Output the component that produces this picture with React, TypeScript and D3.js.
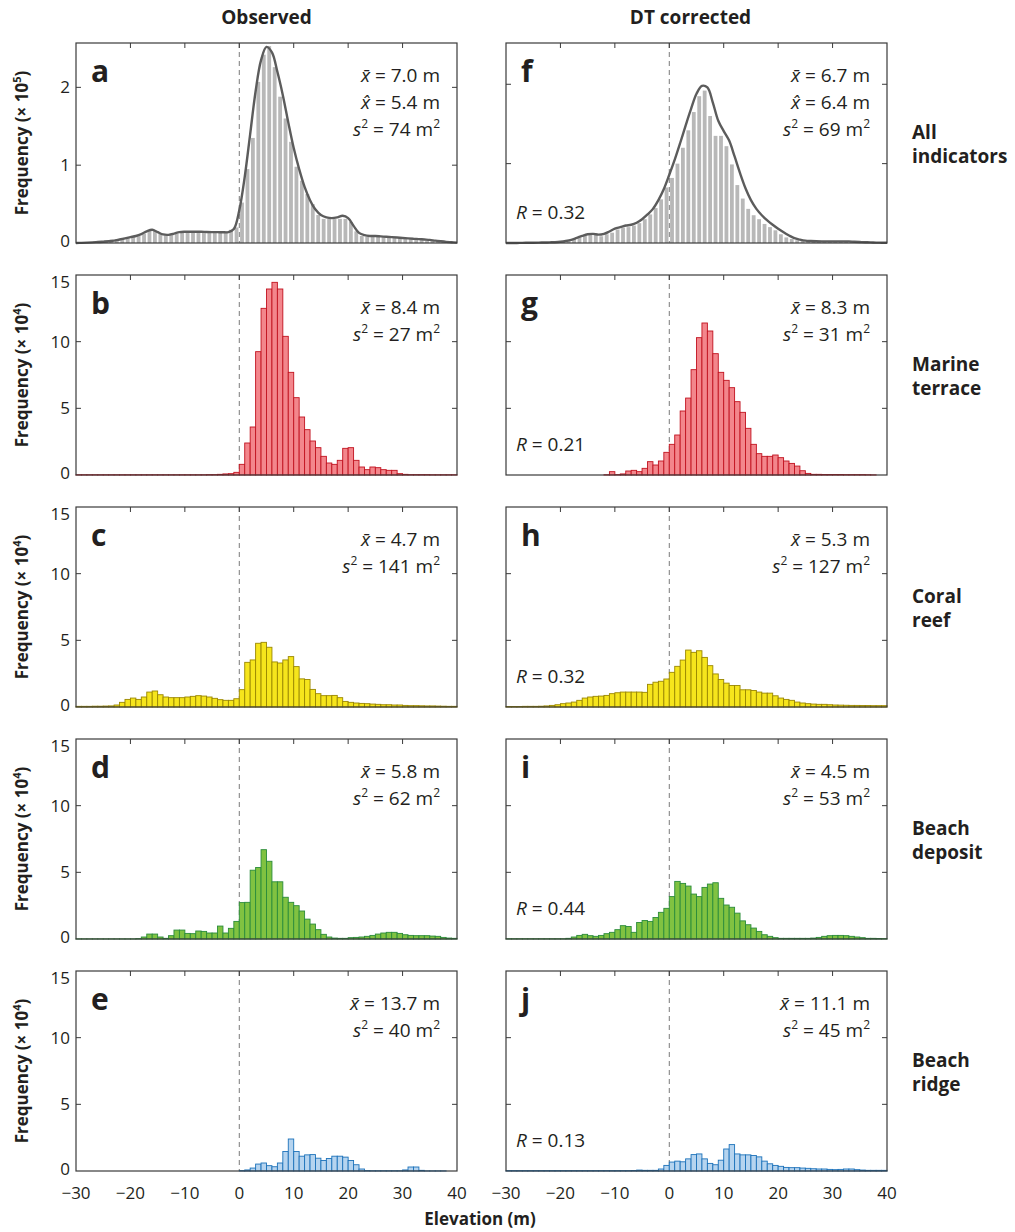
import React from "react";
import * as d3 from "d3";

// 1 m bins from -30 to 40 m (left edges)
const bins = d3.range(-30, 40);
const kdeX = d3.range(-30, 41);

// All indicators, frequency x 10^5
const obsAll = [
  0.005, 0.008, 0.012, 0.02, 0.03, 0.035, 0.045, 0.05, 0.06, 0.065,
  0.07, 0.09, 0.12, 0.16, 0.16, 0.12, 0.1, 0.1, 0.12, 0.14,
  0.15, 0.15, 0.14, 0.15, 0.15, 0.14, 0.14, 0.15, 0.17, 0.2,
  0.52, 0.95, 1.35, 2.07, 2.42, 2.53, 2.26, 1.88, 1.6, 1.3,
  0.98, 0.8, 0.63, 0.5, 0.36, 0.31, 0.31, 0.31, 0.31, 0.31,
  0.27, 0.15, 0.09, 0.08, 0.08, 0.08, 0.08, 0.07, 0.07, 0.06,
  0.05, 0.05, 0.04, 0.04, 0.035, 0.03, 0.025, 0.02, 0.015, 0.01,
];
const dtAll = [
  0.004, 0.004, 0.004, 0.005, 0.005, 0.005, 0.006, 0.008, 0.01, 0.012,
  0.02, 0.03, 0.05, 0.07, 0.09, 0.11, 0.1, 0.085, 0.11, 0.13,
  0.17, 0.19, 0.2, 0.22, 0.25, 0.3, 0.36, 0.44, 0.55, 0.7,
  0.82, 1.0, 1.2, 1.42, 1.65, 1.85, 1.92, 1.6, 1.35, 1.35,
  1.22, 0.99, 0.73, 0.56, 0.43, 0.35, 0.3, 0.24, 0.2, 0.16,
  0.11, 0.07, 0.05, 0.035, 0.025, 0.025, 0.025, 0.025, 0.025, 0.025,
  0.025, 0.025, 0.025, 0.02, 0.015, 0.012, 0.01, 0.008, 0.005, 0.003,
];
// smoothed density curves drawn over panels a and f (x = -30..40)
const kdeObsAll = [
  0.0, 0.002, 0.005, 0.008, 0.012, 0.016, 0.022, 0.03, 0.045, 0.06,
  0.075, 0.09, 0.115, 0.15, 0.17, 0.14, 0.11, 0.105, 0.12, 0.14,
  0.145, 0.145, 0.145, 0.145, 0.142, 0.14, 0.14, 0.138, 0.14, 0.18,
  0.42, 0.85, 1.4, 1.95, 2.35, 2.52, 2.45, 2.2, 1.9, 1.55,
  1.22, 0.95, 0.72, 0.55, 0.43, 0.36, 0.33, 0.32, 0.33, 0.35,
  0.32, 0.22, 0.13, 0.1, 0.09, 0.09, 0.085, 0.08, 0.075, 0.07,
  0.065, 0.06, 0.055, 0.05, 0.045, 0.04, 0.03, 0.022, 0.015, 0.01, 0.005,
];
const kdeDtAll = [
  0.0, 0.0, 0.0, 0.002, 0.003, 0.004, 0.005, 0.006, 0.008, 0.01,
  0.015, 0.025, 0.04, 0.065, 0.09, 0.11, 0.115, 0.105, 0.115, 0.145,
  0.18, 0.2, 0.22, 0.23, 0.255, 0.3, 0.36, 0.43, 0.54, 0.68,
  0.86, 1.05, 1.26, 1.48, 1.69, 1.88, 1.98, 1.96, 1.77, 1.54,
  1.41, 1.29, 1.09, 0.88, 0.69, 0.54, 0.43, 0.35, 0.285, 0.23,
  0.18, 0.135, 0.095, 0.06, 0.043, 0.03, 0.025, 0.022, 0.02, 0.02,
  0.02, 0.02, 0.02, 0.02, 0.015, 0.012, 0.01, 0.008, 0.005, 0.004, 0.003,
];

// indicator types, frequency x 10^4
const obsMarine = [
  0.02, 0.02, 0.02, 0.02, 0.02, 0.02, 0.02, 0.02, 0.02, 0.02,
  0.02, 0.02, 0.02, 0.02, 0.02, 0.02, 0.02, 0.02, 0.02, 0.02,
  0.02, 0.02, 0.02, 0.02, 0.03, 0.03, 0.05, 0.08, 0.1, 0.2,
  0.8, 2.4, 3.6, 9.25, 12.5, 13.95, 14.45, 13.95, 10.4, 7.7,
  5.8, 4.35, 3.4, 2.55, 2.05, 1.4, 0.9, 0.8, 1.1, 2.0,
  2.05, 1.1, 0.6, 0.4, 0.6, 0.55, 0.4, 0.35, 0.35, 0.1,
  0.05, 0.03, 0.03, 0.03, 0.03, 0.02, 0.02, 0.02, 0.02, 0.02,
];
const dtMarine = [
  0, 0, 0, 0, 0, 0, 0, 0, 0, 0,
  0, 0, 0, 0, 0, 0, 0, 0, 0.02, 0.25,
  0.03, 0.08, 0.3, 0.35, 0.25, 0.5, 1.0, 0.75, 1.05, 1.7,
  2.3, 3.0, 4.8, 5.77, 7.9, 10.3, 11.4, 10.8, 9.1, 7.7,
  7.1, 6.55, 5.5, 4.7, 3.5, 2.3, 1.6, 1.4, 1.4, 1.5,
  1.3, 1.05, 0.87, 0.67, 0.32, 0.12, 0.05, 0.05, 0.04, 0.04,
  0.04, 0.04, 0.03, 0.03, 0.03, 0.03, 0.02, 0.01, 0, 0,
];
const obsCoral = [
  0.05, 0.05, 0.05, 0.06, 0.06, 0.07, 0.08, 0.15, 0.35, 0.57,
  0.67, 0.57, 0.75, 1.12, 1.2, 0.92, 0.75, 0.7, 0.7, 0.7,
  0.75, 0.8, 0.85, 0.82, 0.75, 0.65, 0.55, 0.5, 0.5, 0.62,
  1.3, 3.35, 3.53, 4.78, 4.85, 4.48, 3.38, 3.3, 3.53, 3.78,
  3.03, 2.11, 2.06, 1.32, 1.0, 0.85, 0.85, 0.87, 0.7, 0.42,
  0.35, 0.3, 0.27, 0.25, 0.22, 0.2, 0.17, 0.17, 0.15, 0.15,
  0.12, 0.1, 0.1, 0.09, 0.08, 0.08, 0.07, 0.06, 0.05, 0.05,
];
const dtCoral = [
  0.04, 0.04, 0.04, 0.05, 0.05, 0.05, 0.06, 0.08, 0.12, 0.17,
  0.25, 0.3, 0.37, 0.5, 0.67, 0.75, 0.8, 0.82, 0.87, 1.0,
  1.07, 1.12, 1.12, 1.12, 1.12, 1.1, 1.7, 1.86, 1.93, 2.1,
  2.6, 3.05, 3.52, 4.27, 4.1, 4.22, 3.72, 3.1, 2.48, 2.06,
  1.79, 1.61, 1.61, 1.29, 1.29, 1.24, 1.12, 1.04, 1.04, 0.84,
  0.67, 0.57, 0.5, 0.37, 0.3, 0.25, 0.22, 0.2, 0.2, 0.17,
  0.15, 0.14, 0.13, 0.12, 0.12, 0.11, 0.11, 0.1, 0.1, 0.1,
];
const obsBeachDeposit = [
  0.01, 0.01, 0.01, 0.01, 0.01, 0.01, 0.01, 0.01, 0.01, 0.01,
  0.01, 0.03, 0.15, 0.37, 0.37, 0.15, 0.05, 0.25, 0.67, 0.67,
  0.42, 0.4, 0.6, 0.57, 0.45, 0.45, 0.97, 0.45, 0.8, 1.32,
  2.73, 2.75, 5.16, 5.36, 6.7, 5.83, 4.29, 4.29, 3.13, 2.75,
  2.5, 2.1, 1.49, 1.12, 0.7, 0.35, 0.15, 0.07, 0.05, 0.05,
  0.1, 0.12, 0.15, 0.2, 0.27, 0.37, 0.45, 0.5, 0.5, 0.42,
  0.32, 0.27, 0.25, 0.25, 0.25, 0.22, 0.2, 0.12, 0.07, 0.05,
];
const dtBeachDeposit = [
  0.02, 0.02, 0.02, 0.02, 0.02, 0.02, 0.02, 0.02, 0.02, 0.02,
  0.02, 0.05, 0.15, 0.27, 0.35, 0.25, 0.2, 0.27, 0.4, 0.5,
  0.7, 1.0, 0.94, 0.5, 1.24, 1.39, 1.32, 1.61, 2.0, 2.3,
  3.18, 4.32, 4.17, 3.97, 3.37, 3.18, 3.87, 4.12, 4.22, 3.05,
  2.55, 2.38, 1.94, 1.36, 1.07, 0.82, 0.57, 0.32, 0.2, 0.1,
  0.05, 0.05, 0.05, 0.05, 0.05, 0.05, 0.07, 0.12, 0.2, 0.25,
  0.27, 0.27, 0.25, 0.2, 0.15, 0.1, 0.05, 0.05, 0.04, 0.03,
];
const obsBeachRidge = [
  0, 0, 0, 0, 0, 0, 0, 0, 0, 0,
  0, 0, 0, 0, 0, 0, 0, 0, 0, 0,
  0, 0, 0, 0, 0, 0, 0, 0, 0, 0,
  0.03, 0.08, 0.22, 0.52, 0.6, 0.4, 0.32, 0.6, 1.46, 2.4,
  1.46, 1.11, 1.21, 1.23, 0.96, 0.79, 0.94, 1.11, 1.11, 1.04,
  0.79, 0.47, 0.15, 0.03, 0.02, 0.02, 0.02, 0.02, 0.02, 0.02,
  0.08, 0.3, 0.3, 0.05, 0.01, 0.01, 0.01, 0.01, 0, 0,
];
const dtBeachRidge = [
  0.03, 0.03, 0.03, 0.03, 0.03, 0.03, 0.03, 0.03, 0.03, 0.03,
  0.03, 0.03, 0.03, 0.03, 0.03, 0.03, 0.03, 0.03, 0.03, 0.03,
  0.03, 0.03, 0.03, 0.04, 0.07, 0.05, 0.05, 0.05, 0.15, 0.42,
  0.67, 0.74, 0.69, 0.91, 1.23, 1.28, 0.91, 0.57, 0.47, 0.81,
  1.65, 1.98, 1.28, 1.21, 1.21, 1.16, 1.06, 0.74, 0.54, 0.42,
  0.35, 0.27, 0.25, 0.25, 0.22, 0.2, 0.17, 0.15, 0.15, 0.12,
  0.1, 0.12, 0.15, 0.15, 0.1, 0.07, 0.05, 0.05, 0.05, 0.05,
];

// labels and statistics
const rowLabels = [["All", "indicators"], ["Marine", "terrace"], ["Coral", "reef"], ["Beach", "deposit"], ["Beach", "ridge"]];
const obsLetters = ["a", "b", "c", "d", "e"];
const dtLetters = ["f", "g", "h", "i", "j"];
const meanObs = ["7.0", "8.4", "4.7", "5.8", "13.7"];
const varObs = ["74", "27", "141", "62", "40"];
const meanDt = ["6.7", "8.3", "5.3", "4.5", "11.1"];
const varDt = ["69", "31", "127", "53", "45"];
const modeObs = "5.4";
const modeDt = "6.4";
const rValues = ["0.32", "0.21", "0.32", "0.44", "0.13"];
const xTicks = [-30, -20, -10, 0, 10, 20, 30, 40];
const fills = ["#b8b8b8", "#f3868c", "#f6e51c", "#80c241", "#b6d4ef"];
const strokes = ["none", "#c1121f", "#9a8700", "#2a8c3a", "#1c72ba"];

const obsSeries = [obsAll, obsMarine, obsCoral, obsBeachDeposit, obsBeachRidge];
const dtSeries = [dtAll, dtMarine, dtCoral, dtBeachDeposit, dtBeachRidge];

const W = 1015;
const H = 1232;
const FONT = "'Open Sans', 'Noto Sans', sans-serif";
const colLeft = [76, 506];
const panelW = 381;
const panelH = 200;
const rowTop = [43, 275, 507, 739, 971];

const fmt = (t: number) => (t < 0 ? "\u2212" + Math.abs(t) : String(t));

function Panel({ row, col }: { row: number; col: number }) {
  const left = colLeft[col];
  const top = rowTop[row];
  const right = left + panelW;
  const bottom = top + panelH;
  const values = col === 0 ? obsSeries[row] : dtSeries[row];
  const yMax = row === 0 ? (col === 0 ? 2.57 : 2.52) : 15;
  const yTicks = row === 0 ? [0, 1, 2] : [0, 5, 10, 15];

  const x = d3.scaleLinear().domain([-30, 40]).range([left, right]);
  const y = d3.scaleLinear().domain([0, yMax]).range([bottom, top]);

  const gray = row === 0;
  const kde = col === 0 ? kdeObsAll : kdeDtAll;
  const line = d3
    .line<number>()
    .x((d, i) => x(kdeX[i]))
    .y((d) => y(d))
    .curve(d3.curveCatmullRom);

  const statRight = right - 17;
  const mean = col === 0 ? meanObs[row] : meanDt[row];
  const vari = col === 0 ? varObs[row] : varDt[row];
  const lines: React.ReactNode[] = [];
  lines.push(
    <>
      <tspan fontStyle="italic">{"x\u0304"}</tspan>
      {` = ${mean} m`}
    </>
  );
  if (gray) {
    lines.push(
      <>
        <tspan fontStyle="italic">{"x\u0302"}</tspan>
        {` = ${col === 0 ? modeObs : modeDt} m`}
      </>
    );
  }
  lines.push(
    <>
      <tspan fontStyle="italic">s</tspan>
      <tspan fontSize={12} dy={-8}>2</tspan>
      <tspan dy={8}>{` = ${vari} m`}</tspan>
      <tspan fontSize={12} dy={-8}>2</tspan>
    </>
  );

  return (
    <g>
      {/* zero line */}
      <line x1={x(0)} x2={x(0)} y1={top} y2={bottom} stroke="#7a7a7a" strokeWidth={1} strokeDasharray="5,4" />
      {/* histogram */}
      {bins.map((b, i) => {
        const w = x(b + 1) - x(b);
        return gray ? (
          <rect key={b} x={x(b) + w * 0.15} width={w * 0.7} y={y(values[i])} height={y(0) - y(values[i])} fill={fills[0]} />
        ) : (
          <rect key={b} x={x(b)} width={w} y={y(values[i])} height={y(0) - y(values[i])} fill={fills[row]} stroke={strokes[row]} strokeWidth={0.9} />
        );
      })}
      {gray && <path d={line(kde) || ""} fill="none" stroke="#5c5c5c" strokeWidth={2.4} />}
      {/* frame and ticks */}
      <rect x={left} y={top} width={panelW} height={panelH} fill="none" stroke="#3a3a3a" strokeWidth={1.2} />
      {xTicks.slice(1, -1).map((t) => (
        <line key={"xt" + t} x1={x(t)} x2={x(t)} y1={top} y2={top + 5} stroke="#3a3a3a" strokeWidth={1} />
      ))}
      {yTicks.slice(1).filter((t) => t < yMax).map((t) => (
        <g key={"yt" + t}>
          <line x1={left} x2={left + 5} y1={y(t)} y2={y(t)} stroke="#3a3a3a" strokeWidth={1} />
          <line x1={right - 5} x2={right} y1={y(t)} y2={y(t)} stroke="#3a3a3a" strokeWidth={1} />
        </g>
      ))}
      {col === 0 &&
        yTicks.map((t) => (
          <text key={"yl" + t} x={left - 6} y={y(t) + (t === yMax ? 7 : 0) - (t === 0 ? 2 : 0)} dy="0.35em" textAnchor="end" fontSize={17} fill="#231f20">
            {t}
          </text>
        ))}
      {row === 4 &&
        xTicks.map((t) => (
          <text key={"xl" + t} x={x(t)} y={bottom + 28} textAnchor="middle" fontSize={17} fill="#231f20">
            {fmt(t)}
          </text>
        ))}
      {/* panel letter */}
      <text x={left + 15} y={top + 39} fontSize={30} fontWeight="bold" fill="#231f20">
        {col === 0 ? obsLetters[row] : dtLetters[row]}
      </text>
      {lines.map((l, i) => (
        <text key={"st" + i} x={statRight} y={top + 38.5 + i * 27} textAnchor="end" fontSize={19} fill="#231f20">
          {l}
        </text>
      ))}
      {col === 1 && (
        <text x={left + 10} y={bottom - 24} fontSize={19} fill="#231f20">
          <tspan fontStyle="italic">R</tspan>
          {` = ${rValues[row]}`}
        </text>
      )}
    </g>
  );
}

export default function App() {
  return (
    <svg width={W} height={H} style={{ position: "absolute", left: 0, top: 0, background: "#fff" }} fontFamily={FONT}>
      <text x={colLeft[0] + panelW / 2} y={24} textAnchor="middle" fontSize={19} fontWeight="bold" fill="#231f20">
        Observed
      </text>
      <text x={colLeft[1] + panelW / 2 - 6} y={24} textAnchor="middle" fontSize={19} fontWeight="bold" fill="#231f20">
        DT corrected
      </text>
      {rowTop.map((t, r) => (
        <g key={r}>
          <Panel row={r} col={0} />
          <Panel row={r} col={1} />
          <text transform={`translate(28, ${t + panelH / 2}) rotate(-90)`} textAnchor="middle" fontSize={17} fontWeight="bold" fill="#231f20">
            {"Frequency (\u00d7 10"}
            <tspan fontSize={11} dy={-7}>{r === 0 ? "5" : "4"}</tspan>
            <tspan dy={7}>)</tspan>
          </text>
          <text x={912} y={t + 96} fontSize={19} fontWeight="bold" fill="#231f20">
            {rowLabels[r][0]}
          </text>
          <text x={912} y={t + 120} fontSize={19} fontWeight="bold" fill="#231f20">
            {rowLabels[r][1]}
          </text>
        </g>
      ))}
      <text x={480} y={1225} textAnchor="middle" fontSize={17} fontWeight="bold" fill="#231f20">
        Elevation (m)
      </text>
    </svg>
  );
}
